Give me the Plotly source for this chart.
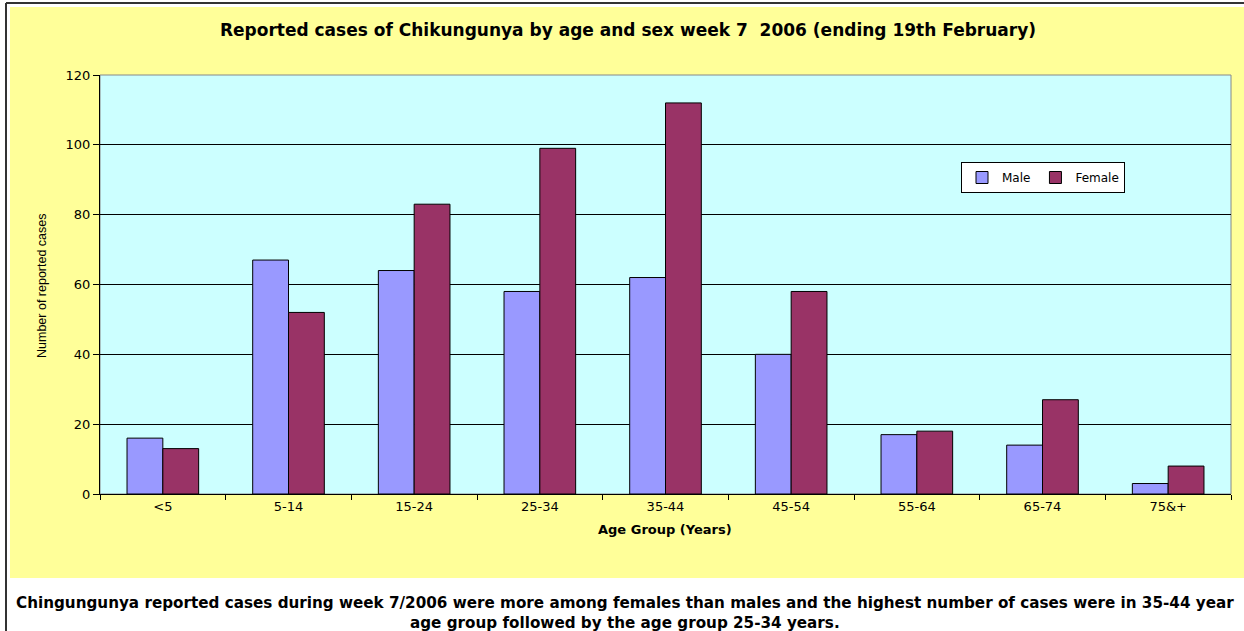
import plotly.graph_objects as go

age_groups = ["<5", "5-14", "15-24", "25-34", "35-44", "45-54", "55-64", "65-74", "75&+"]
male = [16, 67, 64, 58, 62, 40, 17, 14, 3]
female = [13, 52, 83, 99, 112, 58, 18, 27, 8]
y_ticks = [0, 20, 40, 60, 80, 100, 120]

W, H = 1244, 631
L, R, T, B = 100, 13, 75, 137
PW, PH = W - L - R, H - T - B


def px(x):
    return (x - L) / PW


def py(y):
    return (H - B - y) / PH


FONT = "DejaVu Sans"

fig = go.Figure()
fig.add_trace(go.Bar(name="Male", x=age_groups, y=male,
                     marker=dict(color="#9999FF", line=dict(color="#000000", width=1))))
fig.add_trace(go.Bar(name="Female", x=age_groups, y=female,
                     marker=dict(color="#993366", line=dict(color="#000000", width=1))))

shapes = [
    dict(type="rect", xref="paper", yref="paper", x0=px(10), x1=px(1250), y0=py(578), y1=py(7),
         fillcolor="#FFFF99", line=dict(width=0), layer="below"),
    dict(type="rect", xref="paper", yref="paper", x0=0, x1=1, y0=0, y1=1,
         fillcolor="#CCFFFF", line=dict(color="#888888", width=1), layer="below"),
    dict(type="line", xref="paper", yref="paper", x0=px(6), x1=px(6), y0=py(3), y1=py(640),
         line=dict(color="#333333", width=2)),
    dict(type="line", xref="paper", yref="paper", x0=px(6), x1=px(1250), y0=py(3), y1=py(3),
         line=dict(color="#333333", width=2)),
]

caption = ("<b>Chingungunya reported cases during week 7/2006 were more among females than males "
           "and the highest number of cases were in 35-44 year<br>"
           "age group followed by the age group 25-34 years.</b>")

annotations = [
    dict(text="Number of reported cases", xref="paper", yref="paper", x=px(42), y=py(286),
         textangle=-90, showarrow=False,
         font=dict(family="Liberation Sans", size=12.5, color="#000000"),
         xanchor="center", yanchor="middle"),
    dict(text="<b>Age Group (Years)</b>", xref="paper", yref="paper", x=px(665), y=py(529),
         showarrow=False, font=dict(family=FONT, size=13, color="#000000"),
         xanchor="center", yanchor="middle"),
    dict(text=caption, xref="paper", yref="paper", x=px(625), y=py(612.5), showarrow=False,
         align="center", font=dict(family=FONT, size=15.2, color="#000000"),
         xanchor="center", yanchor="middle"),
]

fig.update_layout(
    width=W, height=H,
    margin=dict(l=L, r=R, t=T, b=B, pad=0),
    paper_bgcolor="#FFFFFF",
    plot_bgcolor="#CCFFFF",
    barmode="group", bargap=0.43, bargroupgap=0,
    title=dict(text="<b>Reported cases of Chikungunya by age and sex week 7  2006 (ending 19th February)</b>",
               xref="container", yref="container", x=628 / W, y=1 - 30 / H,
               xanchor="center", yanchor="middle",
               font=dict(family=FONT, size=17, color="#000000")),
    font=dict(family=FONT, size=13, color="#000000"),
    shapes=shapes,
    annotations=annotations,
    legend=dict(orientation="h", x=px(961), y=py(162), xanchor="left", yanchor="top",
                bgcolor="#FFFFFF", bordercolor="#000000", borderwidth=1,
                font=dict(family=FONT, size=12, color="#000000"),
                itemwidth=30, tracegroupgap=0),
    xaxis=dict(type="category", tickson="boundaries", ticks="outside", ticklen=5,
               tickcolor="#000000", showline=True, linecolor="#000000", linewidth=1,
               showgrid=False, tickfont=dict(family=FONT, size=13, color="#000000")),
    yaxis=dict(range=[0, 120], tickvals=y_ticks, ticks="outside", ticklen=6,
               tickcolor="#000000", showline=True, linecolor="#000000", linewidth=1,
               showgrid=True, gridcolor="#000000", gridwidth=1, zeroline=False,
               tickfont=dict(family=FONT, size=13, color="#000000")),
)

fig.write_html("out.html", config={"displayModeBar": False},
               post_script="document.body.style.margin='0';document.body.style.overflow='hidden';")
